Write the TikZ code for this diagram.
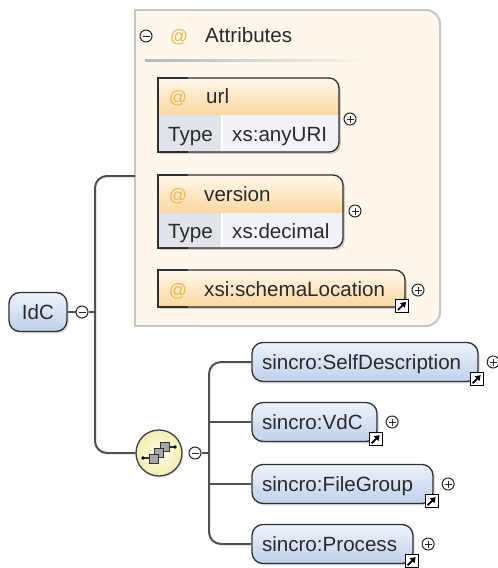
\documentclass[tikz,border=0pt]{standalone}
\usepackage{fontspec}
\setmainfont{Liberation Sans}
\usetikzlibrary{arrows.meta,shadows}
\definecolor{treeln}{HTML}{505050}
\definecolor{cream}{HTML}{FDF7EC}
\definecolor{cbd}{HTML}{C6C6C6}
\definecolor{elTop}{HTML}{EEF3FB}
\definecolor{elBot}{HTML}{BFD0EA}
\definecolor{elbd}{HTML}{303030}
\definecolor{hdTop}{HTML}{FFF8EC}
\definecolor{hdBot}{HTML}{FBD7A0}
\definecolor{typeA}{HTML}{E0E3EA}
\definecolor{typeB}{HTML}{F1F3F8}
\definecolor{atc}{HTML}{F0B848}
\definecolor{txt}{HTML}{2A2A2A}
\definecolor{seqIn}{HTML}{FFFFE4}
\definecolor{seqOut}{HTML}{F1EDB4}
\definecolor{sqf}{HTML}{A4A6AE}
\newcommand\dfont{\fontsize{20.6}{24}\selectfont}
\newcommand\afont{\fontsize{18}{21}\selectfont}
\newcommand\rclip[4]{\clip (#1,#2) rectangle (#3,#4); \clip[rounded corners=10pt] ({#1-20},#2) rectangle (#3,#4);}
\newcommand\rborder[4]{\draw[abd, rounded corners=10pt] ({#1+30},#2) -- (#3,#2) -- (#3,#4) -- ({#1+30},#4); \draw[abd] ({#1+30},#4) -- (#1,#4) -- (#1,#2) -- ({#1+30},#2);}
\newcommand\rshadow[4]{\begin{scope}[shift={(2,2)}]\rclip{#1}{#2}{#3}{#4}\fill[black,opacity=.18] (#1,#2) rectangle (#3,#4);\end{scope}}
\tikzset{
  tree/.style={draw=treeln, line width=2pt},
  abd/.style={draw=elbd, line width=1.3pt},
  pm/.style={circle, draw=black!85, fill=white, line width=1pt, minimum size=12pt, inner sep=0pt},
  plus/.style={pm, path picture={\draw[line width=1pt] ([xshift=-3.5pt]path picture bounding box.center) -- ([xshift=3.5pt]path picture bounding box.center) ([yshift=-3.5pt]path picture bounding box.center) -- ([yshift=3.5pt]path picture bounding box.center);}},
  minus/.style={pm, path picture={\draw[line width=1pt] ([xshift=-3.5pt]path picture bounding box.center) -- ([xshift=3.5pt]path picture bounding box.center);}},
  lnk/.style={rectangle, draw=black, fill=white, line width=1.2pt, minimum size=13pt, inner sep=0pt, path picture={\draw[line width=1.7pt, -{Triangle[length=5pt,width=6.5pt]}] ([xshift=-4pt,yshift=-4pt]path picture bounding box.center) -- ([xshift=4pt,yshift=4pt]path picture bounding box.center);}},
  elem/.style={rectangle, rounded corners=11pt, draw=elbd, line width=1.3pt, top color=elTop, bottom color=elBot, minimum height=39pt, inner xsep=10pt, inner ysep=0pt, text height=14.7pt, text depth=0pt, text=txt, font=\dfont, align=left, drop shadow={opacity=0.22, shadow xshift=2pt, shadow yshift=-2pt}},
  atxt/.style={anchor=base west, inner sep=0pt, font=\dfont, text=txt},
  atsym/.style={anchor=base, inner sep=0pt, font=\afont, text=atc},
  seqc/.style={circle, draw=black!75, line width=1.3pt, inner color=seqIn, outer color=seqOut, minimum size=46pt, inner sep=0pt, drop shadow={opacity=0.2, shadow xshift=1.5pt, shadow yshift=-1.5pt}},
  sq/.style={draw=black!80, fill=sqf, line width=0.9pt}
}
\begin{document}
\begin{tikzpicture}[x=1pt,y=-1pt]
\useasboundingbox (0,0) rectangle (498,568);
\fill[white] (0,0) rectangle (498,568);
% attributes container
\begin{scope}
  \clip (135,10) rectangle (440,326);
  \clip[rounded corners=14pt] (100,10) rectangle (440,326);
  \fill[cream] (135,10) rectangle (440,326);
\end{scope}
\draw[draw=cbd, line width=2pt, rounded corners=14pt] (200,10) -- (440,10) -- (440,326) -- (200,326);
\draw[draw=cbd, line width=2pt] (200,326) -- (135,326) -- (135,10) -- (200,10);
\coordinate (attr) at (135,176);
\node[minus] (attm) at (146,36) {};
\node[atsym] (atth) at (179,42) {@};
\node[atxt] (atts) at (205,42) {Attributes};
\shade[left color=black!28, right color=cream] (145,59) rectangle (370,61);
% url
\rshadow{158}{78}{339}{152}
\begin{scope}
  \rclip{158}{78}{339}{152}
  \shade[top color=hdTop, bottom color=hdBot] (158,78) rectangle (339,115);
  \fill[typeA] (158,115) rectangle (222,152);
  \fill[typeB] (222,115) rectangle (339,152);
  \draw[white, line width=1.5pt] (222,115) -- (222,152);
\end{scope}
\rborder{158}{78}{339}{152}
\node[atsym] (urla) at (178,103) {@};
\node[atxt] (urln) at (206,103) {url};
\node[atxt] (urlt) at (168,141) {Type};
\node[atxt] (urlv) at (232,141) {xs:anyURI};
\node[plus] (urlp) at (350,119) {};
% version
\rshadow{158}{175}{343}{248}
\begin{scope}
  \rclip{158}{175}{343}{248}
  \shade[top color=hdTop, bottom color=hdBot] (158,175) rectangle (343,213);
  \fill[typeA] (158,213) rectangle (222,248);
  \fill[typeB] (222,213) rectangle (343,248);
  \draw[white, line width=1.5pt] (222,213) -- (222,248);
\end{scope}
\rborder{158}{175}{343}{248}
\node[atsym] (vera) at (178,201) {@};
\node[atxt] (vern) at (204,201) {version};
\node[atxt] (vert) at (168,238) {Type};
\node[atxt] (verv) at (232,238) {xs:decimal};
\node[plus] (verp) at (355,211) {};
% schemaLocation
\rshadow{158}{270}{405}{307}
\begin{scope}
  \rclip{158}{270}{405}{307}
  \shade[top color=hdTop, bottom color=hdBot] (158,270) rectangle (405,307);
\end{scope}
\rborder{158}{270}{405}{307}
\node[atsym] (sla) at (178,296) {@};
\node[atxt] (sln) at (204,296) {xsi:schemaLocation};
\node[lnk] (sll) at (402,306) {};
\node[plus] (slp) at (418,290) {};
% IdC
\node[elem, minimum width=58pt, text width=38pt, align=center] (idc) at (38,312) {IdC};
\node[minus] (idcm) at (82,312) {};
\coordinate (j1) at (95,312);
% sequence
\node[seqc] (seq) at (159,453) {};
\begin{scope}[shift={(seq.center)}]
  \draw[line width=1.2pt, black!80] (-16,5) -- (-6,5) (6,-6) -- (16,-6);
  \fill[black] (-16,5) circle (1.8pt) (16,-6) circle (1.8pt);
  \draw[sq] (1,-10.5) rectangle (10,-1.5);
  \draw[sq] (-4.5,-4.5) rectangle (4.5,4.5);
  \draw[sq] (-10,1) rectangle (-1,10);
\end{scope}
\node[minus] (seqm) at (195,453) {};
\coordinate (j2) at (209,453);
% elements
\node[elem, minimum width=226pt, text width=206pt] (e1) at (365,362) {sincro:SelfDescription};
\node[elem, minimum width=125pt, text width=105pt] (e2) at (314.5,422) {sincro:VdC};
\node[elem, minimum width=181pt, text width=161pt] (e3) at (342.5,484) {sincro:FileGroup};
\node[elem, minimum width=161pt, text width=141pt] (e4) at (332.5,544) {sincro:Process};
\foreach \e in {e1,e2,e3,e4}{
  \node[lnk] (\e l) at ([xshift=-2pt,yshift=3pt]\e.south east) {};
  \node[plus] (\e p) at ([xshift=14.5pt]\e.east) {};
}
% connectors
\draw[tree, rounded corners=12pt] (attr) -| (j1) |- (seq.west);
\draw[tree] (idc.east) -- (idcm.west);
\draw[tree] (idcm.east) -- (j1);
\draw[tree] (seqm.east) -- (j2);
\draw[tree, rounded corners=12pt] (j2) |- (e1.west);
\draw[tree, rounded corners=12pt] (j2) |- (e4.west);
\draw[tree] (j2) |- (e2.west);
\draw[tree] (j2) |- (e3.west);
\end{tikzpicture}
\end{document}
